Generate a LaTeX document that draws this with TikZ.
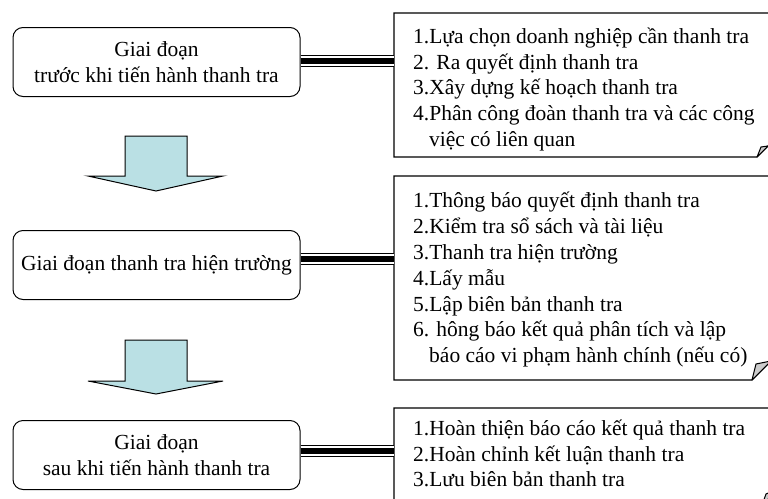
\documentclass[tikz,border=0pt]{standalone}
\usepackage{fontspec}
\setmainfont{Liberation Serif}
\begin{document}
\begin{tikzpicture}[x=1pt,y=-1pt,
  every node/.style={font=\fontsize{21.5}{25.8}\selectfont},
  stage/.style={draw, line width=1pt, rounded corners=10pt,
    minimum width=287pt, minimum height=69pt, align=center, inner sep=0pt},
  panel/.style={anchor=north west, minimum width=400pt, inner sep=0pt},
  listtext/.style={anchor=north west, align=left, inner sep=0pt},
  outline/.style={line width=1.2pt, line join=miter},
  curl/.style={line width=1pt, fill=gray!40, line join=round},
  blockarrow/.style={draw, line width=1pt, fill=arrowfill, line join=miter},
  triple/.style={line width=12.3pt,
    postaction={draw=white, line width=9.6pt},
    postaction={draw=black, line width=6pt}}]
\definecolor{arrowfill}{RGB}{186,224,228}

\useasboundingbox (0,0) rectangle (768,498);
\fill[white] (0,0) rectangle (768,498);
\clip (0,0) rectangle (768,498);

% stages on the left
\node[stage] (l1) at (156.5,62) {Giai đoạn\\trước khi tiến hành thanh tra};
\node[stage] (l2) at (156.5,265) {Giai đoạn thanh tra hiện trường};
\node[stage] (l3) at (156.5,455) {Giai đoạn\\sau khi tiến hành thanh tra};

% task panels on the right (running past the right edge)
\node[panel, minimum height=144pt] (r1) at (394,13) {};
\node[panel, minimum height=204pt] (r2) at (394,176) {};
\node[panel, minimum height=97pt] (r3) at (394,408) {};

\draw[outline] (790,13) -- (394,13) -- (394,157) -- (757,157) -- (790,124);
\filldraw[curl] (757,157) -- (761,147) -- (768,146) -- cycle;

\draw[outline] (790,176) -- (394,176) -- (394,380) -- (752,380) -- (790,342);
\filldraw[curl] (752,380) -- (756,364) -- (771,361) -- cycle;

\draw[outline] (790,408) -- (394,408) -- (394,505) -- (762,505) -- (790,477);
\filldraw[curl] (762,505) -- (766,494) -- (779,488) -- cycle;

\node[listtext] (t1) at (413,21) {\rule{0pt}{22pt}1.Lựa chọn doanh nghiệp cần thanh tra\\
2. Ra quyết định thanh tra\\
3.Xây dựng kế hoạch thanh tra\\
4.Phân công đoàn thanh tra và các công\\
\hspace*{16pt}việc có liên quan};

\node[listtext] (t2) at (413,185.7) {\rule{0pt}{22pt}1.Thông báo quyết định thanh tra\\
2.Kiểm tra sổ sách và tài liệu\\
3.Thanh tra hiện trường\\
4.Lấy mẫu\\
5.Lập biên bản thanh tra\\
6. hông báo kết quả phân tích và lập\\
\hspace*{16pt}báo cáo vi phạm hành chính (nếu có)};

\node[listtext] (t3) at (413,413) {\rule{0pt}{22pt}1.Hoàn thiện báo cáo kết quả thanh tra\\
2.Hoàn chỉnh kết luận thanh tra\\
3.Lưu biên bản thanh tra};

% triple-line links from each stage to its panel
\coordinate (c1) at ([yshift=0.8pt]l1.east);
\coordinate (c2) at ([yshift=6pt]l2.east);
\coordinate (c3) at ([yshift=4pt]l3.east);
\draw[triple] (c1) -- (c1 -| r1.west);
\draw[triple] (c2) -- (c2 -| r2.west);
\draw[triple] (c3) -- (c3 -| r3.west);

% block arrows between stages
\draw[blockarrow] (125,136) -- (187,136) -- (187,176) -- (223,176)
  -- (156,191) -- (88,176) -- (125,176) -- cycle;
\draw[blockarrow] (125,340) -- (187,340) -- (187,381) -- (223,381)
  -- (156,394) -- (88,381) -- (125,381) -- cycle;
\end{tikzpicture}
\end{document}
